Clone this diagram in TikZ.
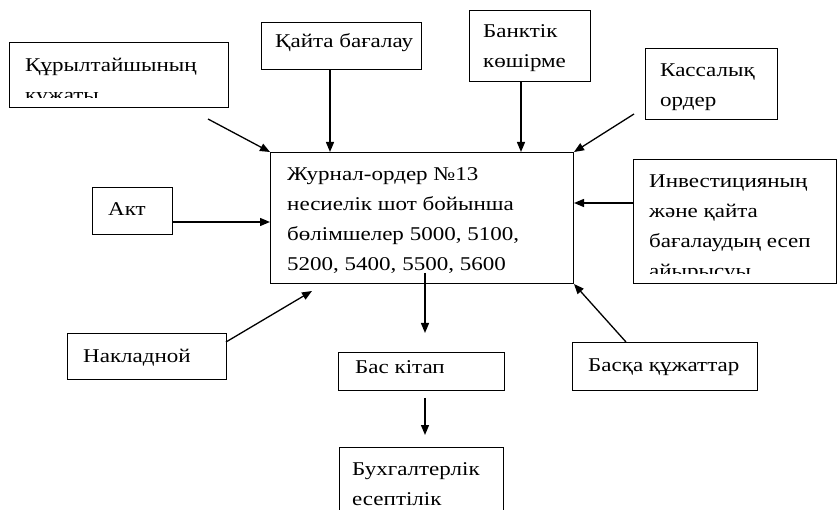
\documentclass[tikz,border=0pt]{standalone}
\usepackage{fontspec}
\setmainfont{Liberation Serif}[FakeStretch=1.18]
\usetikzlibrary{arrows.meta}
\tikzset{
  box/.style={draw, line width=1pt, inner sep=0pt, anchor=north west},
  txt/.style={anchor=base west, inner sep=0pt, font=\fontsize{19.5}{30}\selectfont},
  arr/.style={line width=1.3pt, -{Triangle[length=10pt,width=8pt]}}
}
\newcommand{\lns}[1]{\begin{tabular}[t]{@{}l@{}}#1\end{tabular}}
\begin{document}
\begin{tikzpicture}[x=1pt,y=-1pt]
\useasboundingbox (0,0) rectangle (838,510);
% boxes
\node[box, minimum width=219pt, minimum height=65pt] (kur) at (9,42) {};
\node[box, minimum width=160pt, minimum height=47pt] (kayta) at (261,22) {};
\node[box, minimum width=121pt, minimum height=71pt] (bank) at (469,10) {};
\node[box, minimum width=132pt, minimum height=71pt] (kassa) at (645,48) {};
\node[box, minimum width=203pt, minimum height=124pt] (inv) at (633,159) {};
\node[box, minimum width=303pt, minimum height=131pt] (jur) at (270,152) {};
\node[box, minimum width=80pt, minimum height=47pt] (akt) at (92,187) {};
\node[box, minimum width=159pt, minimum height=46pt] (nakl) at (67,333) {};
\node[box, minimum width=166pt, minimum height=38pt] (bas) at (338,352) {};
\node[box, minimum width=185pt, minimum height=48pt] (baska) at (572,342) {};
\node[box, minimum width=164pt, minimum height=80pt] (buh) at (339,447) {};
% texts
\begin{scope}
  \clip (10,43) rectangle (227,98);
  \node[txt] (kurT) at (25,72) {\lns{Құрылтайшының\\кұжаты}};
\end{scope}
\node[txt] (kaytaT) at (275,48) {Қайта бағалау};
\node[txt] (bankT) at (483,38) {\lns{Банктік\\көшірме}};
\node[txt] (kassaT) at (660,77) {\lns{Кассалық\\ордер}};
\begin{scope}
  \clip (634,160) rectangle (835,274);
  \node[txt] (invT) at (649,188) {\lns{Инвестицияның\\және қайта\\бағалаудың есеп\\айырысуы}};
\end{scope}
\node[txt] (jurT) at (287,181) {\lns{Журнал-ордер №13\\несиелік шот бойынша\\бөлімшелер 5000, 5100,\\5200, 5400, 5500, 5600}};
\node[txt] (aktT) at (108,216) {Акт};
\node[txt] (naklT) at (83,363) {Накладной};
\node[txt] (basT) at (355,374) {Бас кітап};
\node[txt] (baskaT) at (588,372) {Басқа құжаттар};
\node[txt] (buhT) at (352,475) {\lns{Бухгалтерлік\\есептілік}};
% connector ends
\coordinate (c1) at (208,119);
\coordinate (c2) at (634,114);
\coordinate (c3) at (312,291);
\coordinate (c4) at (425,273);
\coordinate (c5) at (425,333);
\coordinate (c6) at (425,398);
\coordinate (c7) at (425,435);
\coordinate (c8) at (626,342);
\coordinate (c9) at (226,342);
% arrows
\draw[arr] (c1) -- (jur.north west);
\draw[arr] (kayta.south -| 330,0) -- (jur.north -| 330,0);
\draw[arr] (bank.south -| 521,0) -- (jur.north -| 521,0);
\draw[arr] (c2) -- (jur.north east);
\draw[arr] (inv.west |- 0,203) -- (jur.east |- 0,203);
\draw[arr] (akt.east |- 0,222) -- (jur.west |- 0,222);
\draw[arr] (c9) -- (c3);
\draw[arr] (c8) -- (jur.south east);
\draw[arr] (c4) -- (c5);
\draw[arr] (c6) -- (c7);
\end{tikzpicture}
\end{document}
